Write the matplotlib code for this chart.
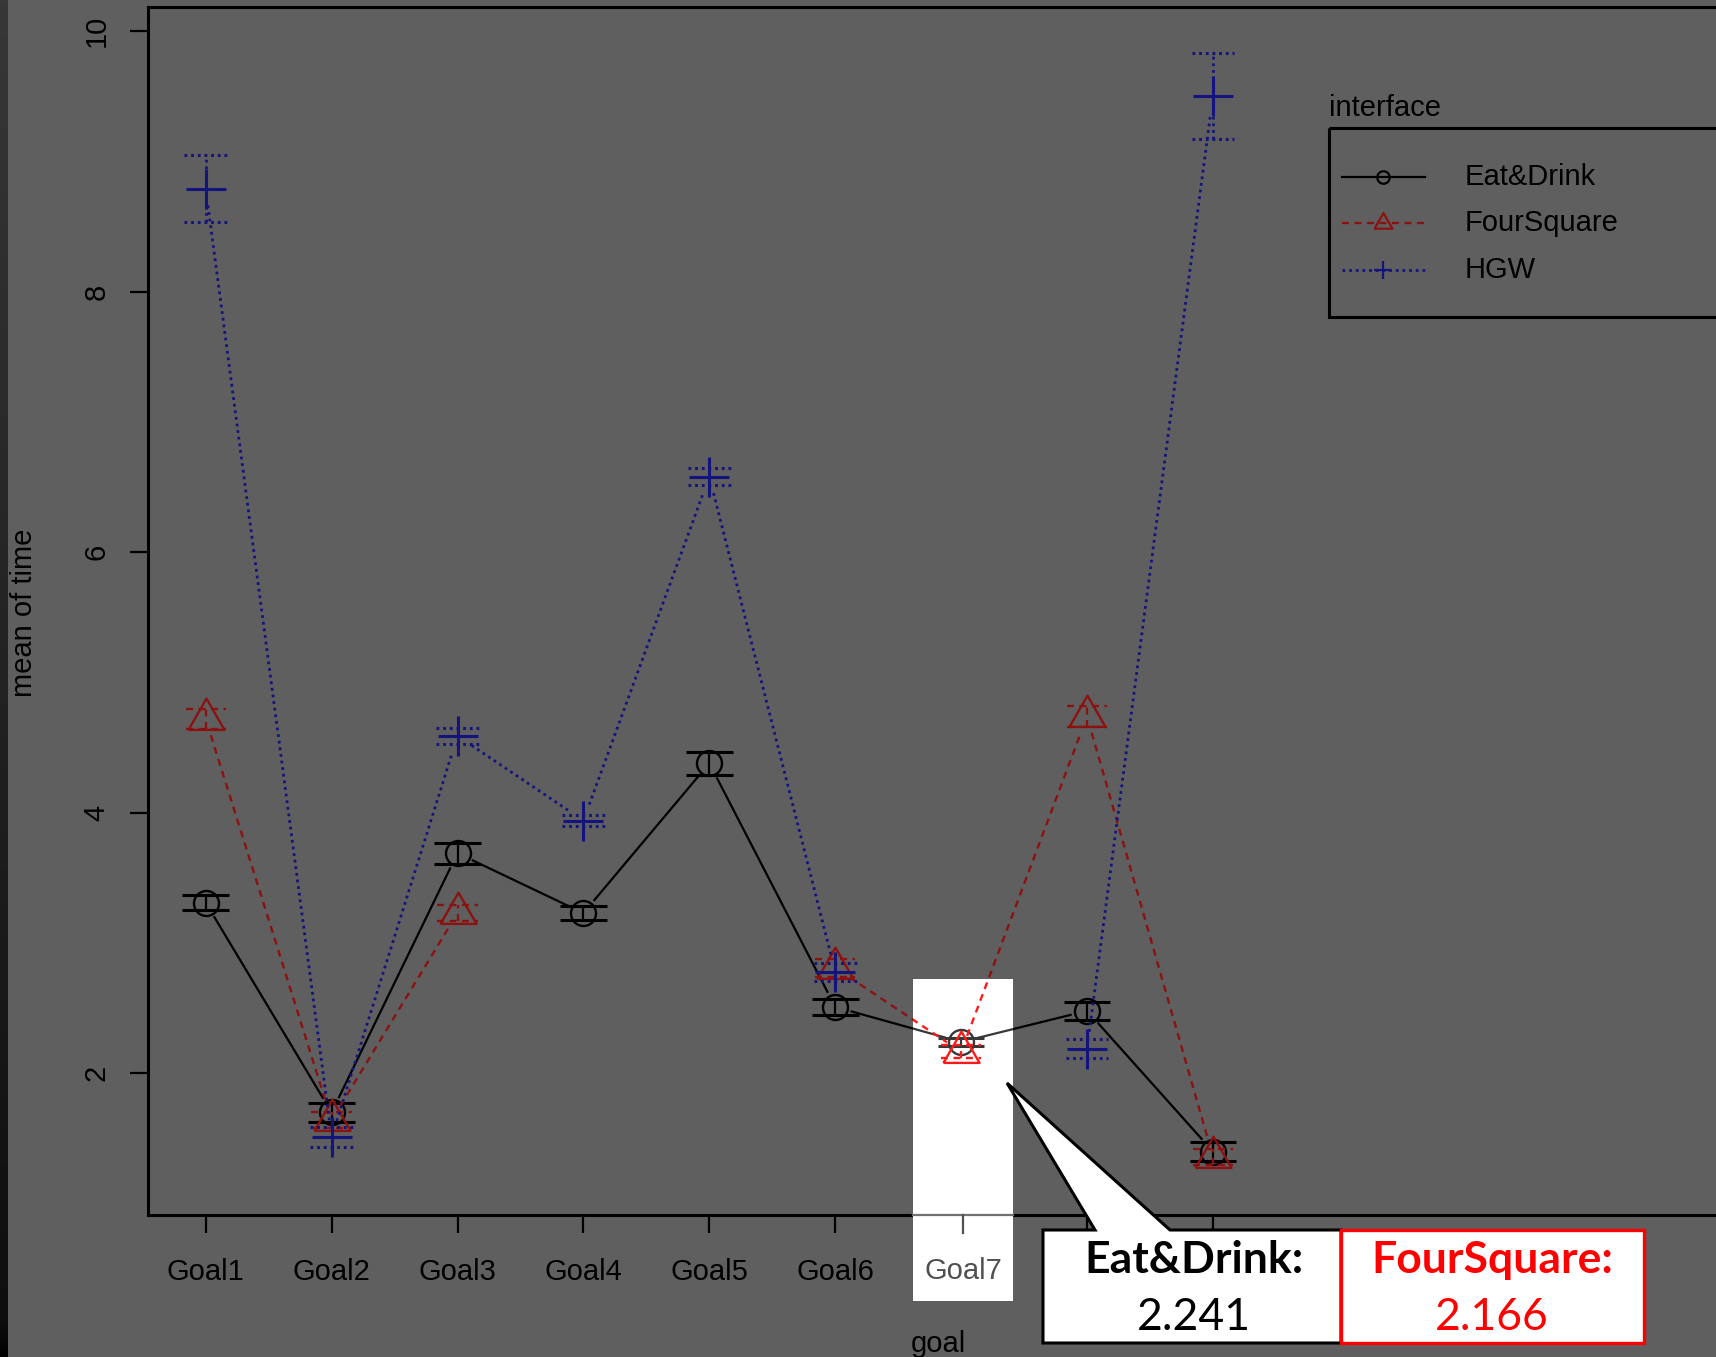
import matplotlib
matplotlib.use("Agg")
import matplotlib.pyplot as plt
import numpy as np
from matplotlib.patches import Rectangle, Polygon

plt.rcParams["font.family"] = ["Liberation Sans", "DejaVu Sans"]
plt.rcParams["lines.scale_dashes"] = False

W, H = 1716, 1357

goals = ["Goal1", "Goal2", "Goal3", "Goal4", "Goal5", "Goal6", "Goal7", "Goal8", "Goal9"]
interfaces = ["Eat&Drink", "FourSquare", "HGW"]

# mean of time per goal, with the half-width of each error bar
eat_drink = [3.31, 1.70, 3.69, 3.23, 4.38, 2.51, 2.241, 2.48, 1.40]
eat_drink_se = [0.06, 0.075, 0.08, 0.055, 0.09, 0.06, 0.03, 0.07, 0.07]
four_square = [4.72, 1.64, 3.23, np.nan, np.nan, 2.81, 2.166, 4.74, 1.36]
four_square_se = [0.08, 0.06, 0.06, np.nan, np.nan, 0.07, 0.05, 0.08, 0.06]
hgw = [8.79, 1.51, 4.59, 3.94, 6.58, 2.78, np.nan, 2.19, 9.50]
hgw_se = [0.255, 0.075, 0.06, 0.045, 0.065, 0.07, np.nan, 0.07, 0.33]

yticks = [2, 4, 6, 8, 10]

BG = "#5f5f5f"
TRI = [(-1, -0.577), (1, -0.577), (0, 1.155), (-1, -0.577)]

dark = {"Eat&Drink": "#000000", "FourSquare": "#8c1212", "HGW": "#14147f"}
bright = {"Eat&Drink": "#383838", "FourSquare": "#ff1a1a", "HGW": "#2020ff"}

styles = {
    "Eat&Drink": dict(ls="-", lw=1.6, marker="o", ms=18, mew=1.7, cap=0.185, cap_lw=2.2, leg_ms=9),
    "FourSquare": dict(ls=(0, (5, 4)), lw=1.7, marker=TRI, ms=30, mew=1.7, cap=0.16, cap_lw=1.7, leg_ms=15),
    "HGW": dict(ls=(0, (2, 2.8)), lw=2.0, marker="+", ms=29, mew=2.2, cap=0.17, cap_lw=2.2, leg_ms=13),
}
series = {
    "Eat&Drink": (eat_drink, eat_drink_se),
    "FourSquare": (four_square, four_square_se),
    "HGW": (hgw, hgw_se),
}

fig = plt.figure(figsize=(W / 100, H / 100), dpi=100, facecolor=BG)

# plot box: left 148px, top 7px, bottom 1215px; right side runs past the edge
ax = fig.add_axes([148 / W, 1 - 1215 / H, (1900 - 148) / W, (1215 - 7) / H], zorder=1)
ax.set_facecolor(BG)
ax.set_xlim(0.5417, 14.457)
ax.set_ylim(0.913, 10.184)
for s in ax.spines.values():
    s.set_linewidth(2.2)
    s.set_color("black")

ax.set_xticks(range(1, 10), goals)
ax.set_yticks(yticks, [str(t) for t in yticks])
ax.tick_params(axis="both", length=13, width=1.6, color="black", labelsize=21, labelcolor="black")
ax.tick_params(axis="x", pad=18)
ax.tick_params(axis="y", pad=24)
for lbl in ax.get_yticklabels():
    lbl.set_rotation(90)
    lbl.set_ha("center")
    lbl.set_va("center")
# the last two goal labels sit under the callout box
for lbl in ax.get_xticklabels()[7:]:
    lbl.set_visible(False)

# overlay in pixel coordinates for the highlight, legend and callout
over = fig.add_axes([0, 0, 1, 1], zorder=5)
over.set_xlim(0, W)
over.set_ylim(H, 0)
over.axis("off")

x = np.arange(1, 10)
gap = 17  # px gap around each point, like type="b"


def draw_series(tgt, name, colors, z, clip=None):
    vals, errs = series[name]
    vals = np.asarray(vals, float)
    errs = np.asarray(errs, float)
    st = styles[name]
    c = colors[name]
    tr = ax.transData
    arts = []
    inv = tr.inverted()
    for i in range(len(x) - 1):
        if np.isnan(vals[i]) or np.isnan(vals[i + 1]):
            continue
        p0 = tr.transform((x[i], vals[i]))
        p1 = tr.transform((x[i + 1], vals[i + 1]))
        d = p1 - p0
        u = d / np.hypot(*d)
        a, b = inv.transform([p0 + u * gap, p1 - u * gap])
        arts += tgt.plot([a[0], b[0]], [a[1], b[1]], color=c, ls=st["ls"], lw=st["lw"],
                         transform=tr, zorder=z)
    ok = ~np.isnan(vals)
    arts += tgt.plot(x[ok], vals[ok], ls="none", marker=st["marker"], ms=st["ms"],
                     mfc="none", mec=c, mew=st["mew"], transform=tr, zorder=z + 0.1)
    lo = vals[ok] - errs[ok]
    hi = vals[ok] + errs[ok]
    arts.append(tgt.vlines(x[ok], lo, hi, colors=c, linestyles=st["ls"], lw=st["lw"],
                           transform=tr, zorder=z))
    for yv in (lo, hi):
        arts.append(tgt.hlines(yv, x[ok] - st["cap"], x[ok] + st["cap"], colors=c,
                               linestyles=st["ls"], lw=st["cap_lw"], transform=tr, zorder=z))
    if clip is not None:
        for a in arts:
            a.set_clip_path(clip)


for k, name in enumerate(interfaces):
    draw_series(ax, name, dark, 3 + k)

# white highlight column over Goal7
hl = Rectangle((913, 979), 100, 322, facecolor="white", edgecolor="none", zorder=1)
over.add_patch(hl)
for k, name in enumerate(interfaces):
    draw_series(over, name, bright, 2 + k * 0.2, clip=hl)
over.plot([913, 1013], [1215, 1215], color="#707070", lw=1.6, zorder=1.5)
over.plot([963, 963], [1215, 1233], color="#505050", lw=1.6, zorder=1.5)
over.text(963, 1271, "Goal7", ha="center", va="center", fontsize=21, color="#505050", zorder=3)

# axis titles
fig.text(24 / W, 1 - 613 / H, "mean of time", rotation=90, ha="center", va="center",
         fontsize=21, color="black")
fig.text(938 / W, 1 - 1352 / H, "goal", ha="center", va="baseline", fontsize=21, color="black")

# legend
over.text(1329, 108, "interface", ha="left", va="center", fontsize=21, color="black", zorder=4)
over.add_patch(Rectangle((1329, 128), 600, 189, facecolor="none", edgecolor="black",
                         lw=2.2, zorder=4))
for k, name in enumerate(interfaces):
    yy = [177, 223, 270][k]
    st = styles[name]
    over.plot([1342, 1425], [yy, yy], color=dark[name], ls=st["ls"], lw=st["lw"], zorder=4)
    over.plot([1383], [yy], ls="none", marker=st["marker"], ms=st["leg_ms"], mfc="none",
              mec=dark[name], mew=1.6, zorder=4)
    over.text(1465, yy, name, ha="left", va="center", fontsize=21, color="black", zorder=4)

# callout with the Goal7 values
callout = Polygon([(1043, 1230), (1095, 1230), (1007, 1083), (1170, 1230), (1341, 1230),
                   (1341, 1343), (1043, 1343)], closed=True, facecolor="white",
                  edgecolor="black", lw=2.2, joinstyle="miter", zorder=10)
over.add_patch(callout)
over.add_patch(Rectangle((1341, 1230), 303, 113, facecolor="white", edgecolor="#ff0000",
                         lw=2.4, zorder=11))
cfont = ["Lato", "DejaVu Sans"]
over.text(1194, 1260, "Eat&Drink:", ha="center", va="center", fontsize=32, fontweight="bold",
          family=cfont, color="black", zorder=12)
over.text(1194, 1317, f"{eat_drink[6]:.3f}", ha="center", va="center", fontsize=32,
          family=cfont, color="black", zorder=12)
over.text(1492, 1260, "FourSquare:", ha="center", va="center", fontsize=32, fontweight="bold",
          family=cfont, color="#ff0000", zorder=12)
over.text(1492, 1317, f"{four_square[6]:.3f}", ha="center", va="center", fontsize=32,
          family=cfont, color="#ff0000", zorder=12)

# dark strip along the left edge
ys = np.arange(H)
shade = np.interp(ys, [0, 1300, 1318, H], [0.22, 0.06, 0.06, 0.0])
strip = np.stack([shade, shade * 0.97, shade * 0.97], axis=1)[:, None, :]
over.imshow(strip, extent=(0, 8, H, 0), aspect="auto", zorder=20, interpolation="bilinear")
over.set_xlim(0, W)
over.set_ylim(H, 0)

fig.savefig("out.png", dpi=100, facecolor=BG)
